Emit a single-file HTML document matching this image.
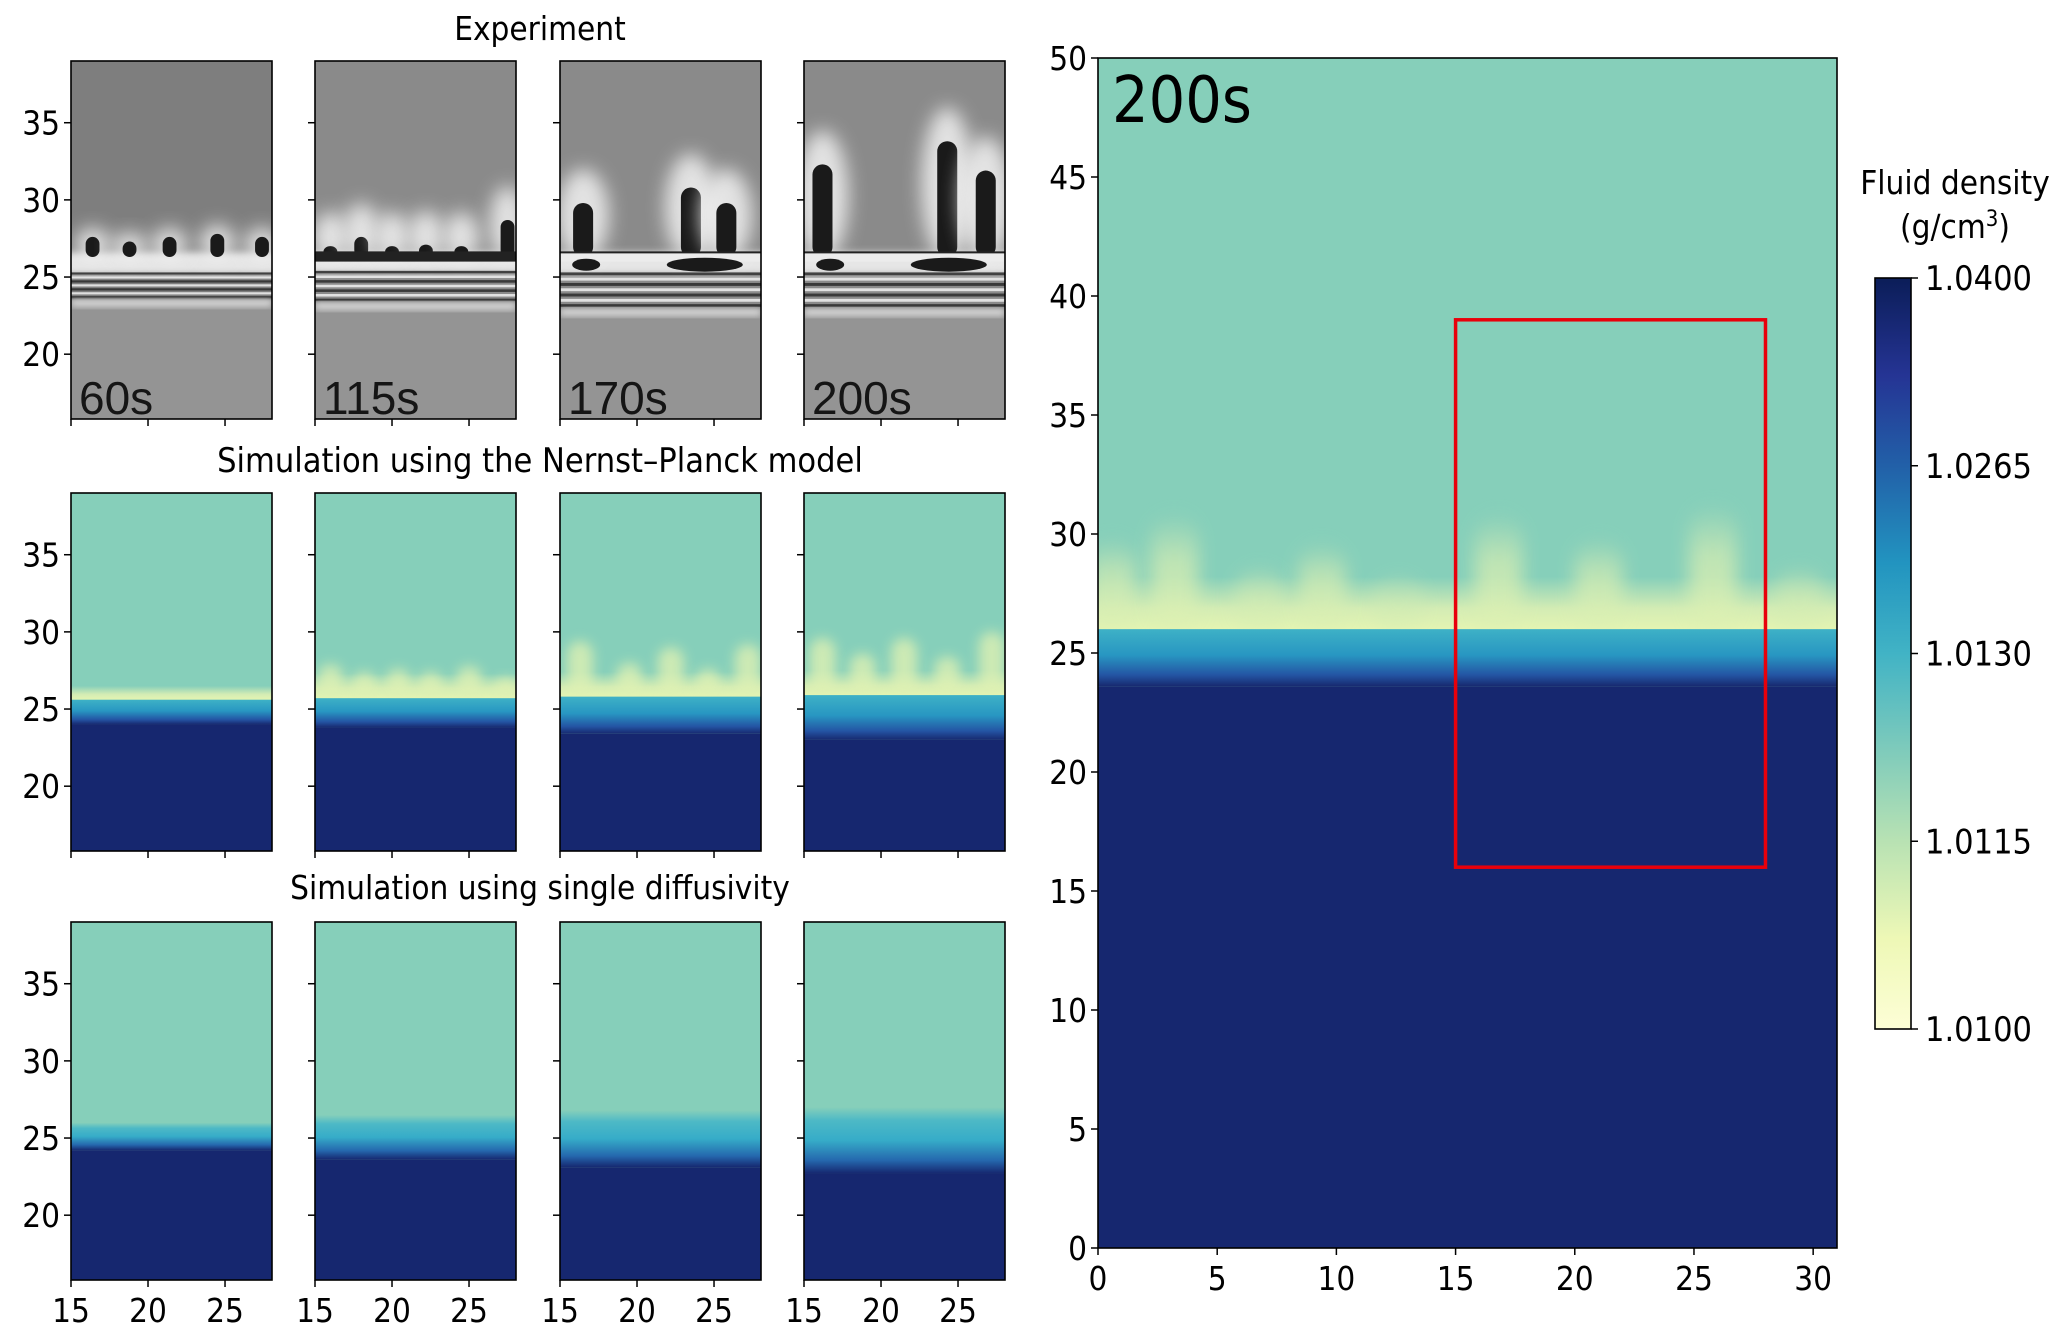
<!DOCTYPE html>
<html><head><meta charset="utf-8"><style>
html,body{margin:0;padding:0;background:#fff;}
svg{display:block;font-family:"DejaVu Sans Condensed","DejaVu Sans","Liberation Sans",sans-serif;}
</style></head><body>
<svg id="fig" width="2067" height="1334" viewBox="0 0 2067 1334" xmlns="http://www.w3.org/2000/svg">
<defs>
 <filter id="blur6" x="-50%" y="-50%" width="200%" height="200%"><feGaussianBlur stdDeviation="9"/></filter>
 <filter id="blur4" x="-50%" y="-50%" width="200%" height="200%"><feGaussianBlur stdDeviation="6"/></filter>
 <filter id="blur2" x="-50%" y="-50%" width="200%" height="200%"><feGaussianBlur stdDeviation="3.5"/></filter>
 <linearGradient id="cbGrad" x1="0" y1="1" x2="0" y2="0">
  <stop offset="0" stop-color="#fdfed6"/>
  <stop offset="0.12" stop-color="#eef8b6"/>
  <stop offset="0.25" stop-color="#b8e2b3"/>
  <stop offset="0.37" stop-color="#7fcbbb"/>
  <stop offset="0.5" stop-color="#41b3c5"/>
  <stop offset="0.62" stop-color="#2294c0"/>
  <stop offset="0.75" stop-color="#2260a8"/>
  <stop offset="0.87" stop-color="#253494"/>
  <stop offset="1" stop-color="#0b1d58"/>
 </linearGradient>
</defs>
</svg>
<script>
const NS='http://www.w3.org/2000/svg';
const svg=document.getElementById('fig');
// ---------- data ----------
const panelTimes=['60s','115s','170s','200s'];
const smallXTicks=[15,20,25];
const smallYTicks=[20,25,30,35];
const bigXTicks=[0,5,10,15,20,25,30];
const bigYTicks=[0,5,10,15,20,25,30,35,40,45,50];
const cbTickLabels=['1.0100','1.0115','1.0130','1.0265','1.0400'];
const rowTitles=['Experiment','Simulation using the Nernst\u2013Planck model','Simulation using single diffusivity'];
const bigPlumeX=[0.6,3.2,6.8,9.4,12.6,16.8,21.0,25.8,29.4];
const bigPlumeTop=[29.8,30.8,28.6,29.6,28.2,30.8,29.8,31.2,28.6];
const bigInterface=26;
const bigNavyTop=23.6;
const npInterface=[25.6,25.7,25.8,25.9];
const npNavyTop=[24.0,23.8,23.4,23.0];
const npPlumeX=[[],[16.0,18.2,20.4,22.5,25.0,27.4],[16.3,19.5,22.2,24.6,27.2],[16.2,18.8,21.5,24.3,27.2]];
const npPlumeTop=[[],[27.9,27.4,27.6,27.4,27.8,27.0],[29.4,28.0,29.0,27.6,29.2],[29.6,28.6,29.6,28.4,30.0]];
const sdBandTop=[26.0,26.5,26.8,27.0];
const sdNavyTop=[24.2,23.6,23.1,22.7];
const expFingerX=[[16.4,18.8,21.4,24.5,27.4],[16.0,18.0,20.0,22.2,24.5,27.5],[16.5,23.5,25.8],[16.2,24.3,26.8]];
const expFingerTop=[[27.6,27.3,27.6,27.8,27.6],[27.0,27.6,27.0,27.1,27.0,28.7],[29.8,30.8,29.8],[32.3,33.8,31.9]];
const expBandTop=[25.3,25.4,25.3,25.3];
const expBandBot=[23.5,23.3,22.9,22.9];

// ---------- helpers ----------
function el(tag,attrs,parent){const e=document.createElementNS(NS,tag);for(const k in attrs)e.setAttribute(k,attrs[k]);(parent||svg).appendChild(e);return e;}
function lin(d0,d1,r0,r1){return v=>r0+(v-d0)/(d1-d0)*(r1-r0);}
function txt(s,x,y,size,anchor,parent){const t=el('text',{x:x,y:y,'font-size':size,'text-anchor':anchor||'start',fill:'#000'},parent);t.textContent=s;return t;}
const FS=33;

const colL=[71,315,560,804], colW=201;
const rowT=[61,493,922], rowH=358;
const titleY=[40,472,899];
const XD=[15,28.05], YD=[15.8,39];

rowTitles.forEach((s,i)=>{const t=txt(s,540,titleY[i],i===1?34:FS,'middle');

});

let clipId=0;
function panel(r,c){
  const x0=colL[c], y0=rowT[r];
  const sx=lin(XD[0],XD[1],x0,x0+colW), sy=lin(YD[0],YD[1],y0+rowH,y0);
  const g=el('g',{});
  
  
  const cp=el('clipPath',{id:'cp'+(++clipId)},g);
  el('rect',{x:x0,y:y0,width:colW,height:rowH},cp);
  const inner=el('g',{'clip-path':'url(#cp'+clipId+')'},g);
  return {g,inner,sx,sy,x0,y0};
}
function smallAxes(p,r,c){
  el('rect',{x:p.x0,y:p.y0,width:colW,height:rowH,fill:'none',stroke:'#000','stroke-width':1.6},p.g);
  smallYTicks.forEach(v=>{const y=p.sy(v);
    el('line',{x1:p.x0-7,x2:p.x0,y1:y,y2:y,stroke:'#000','stroke-width':1.5},p.g);
    if(c===0){const t=txt(String(v),p.x0-11,y+12,FS,'end',p.g);}});
  smallXTicks.forEach(v=>{const x=p.sx(v);
    el('line',{x1:x,x2:x,y1:p.y0+rowH,y2:p.y0+rowH+7,stroke:'#000','stroke-width':1.5},p.g);
    if(r===2){const t=txt(String(v),x,p.y0+rowH+42,FS,'middle',p.g);}});
}
function vgrad(id,stops){const lg=el('linearGradient',{id:id,x1:0,y1:0,x2:0,y2:1},svg.querySelector('defs'));
  stops.forEach(s=>el('stop',{offset:s[0],'stop-color':s[1]},lg));}
vgrad('blueBand',[[0,'#3eb1c6'],[0.45,'#2897c2'],[0.8,'#2455a4'],[1,'#17296f']]);
vgrad('sdBand',[[0,'#86cfba'],[0.2,'#4db9c6'],[0.5,'#36acc8'],[0.8,'#2568ae'],[1,'#16276f']]);
vgrad('yBand',[[0,'#86cfba'],[0.6,'#d3ecb4'],[1,'#e4f4b2']]);
vgrad('plume',[[0,'#86cfba'],[0.4,'#c9e8b4'],[1,'#e0f2b2']]);

// ---------- experiment row ----------
for(let c=0;c<4;c++){
  const p=panel(0,c);const {inner,sx,sy}=p;
  el('rect',{x:p.x0,y:p.y0,width:colW,height:rowH,fill:c===0?'#7e7e7e':'#8a8a8a'},inner);
  el('rect',{x:p.x0,y:sy(expBandBot[c]),width:colW,height:sy(15.8)-sy(expBandBot[c]),fill:'#949494'},inner);
  el('rect',{x:p.x0-20,y:sy(26.6),width:colW+40,height:sy(expBandTop[c])-sy(26.6)+2,fill:'#f0f0f0',filter:'url(#blur2)',opacity:0.9},inner);
  expFingerX[c].forEach((fx,i)=>{
    const top=expFingerTop[c][i];
    const f=el('g',{},inner);
    
    
    const w=c<2?0.9:1.3;
    const glowTop=top+(c===0?0.6:2.2);
    el('ellipse',{cx:sx(fx),cy:(sy(glowTop)+sy(26))/2,rx:w*15.4*1.3,ry:(sy(26)-sy(glowTop))/2,fill:'#f2f2f2',filter:'url(#blur6)',opacity:0.85},f);
    el('rect',{x:sx(fx)-w*7.7,y:sy(top),width:w*15.4,height:sy(26.3)-sy(top),rx:w*7.7,fill:'#1a1a1a'},f);
  });
  if(c>=1){
    el('rect',{x:p.x0,y:sy(26.6),width:colW,height:sy(26.0)-sy(26.6),fill:c===1?'#222':'#ececec'},inner);
    el('line',{x1:p.x0,x2:p.x0+colW,y1:sy(26.6),y2:sy(26.6),stroke:'#222','stroke-width':2},inner);
    if(c>=2){el('ellipse',{cx:sx(16.7),cy:sy(25.8),rx:14,ry:6,fill:'#1a1a1a'},inner);
      el('ellipse',{cx:sx(24.4),cy:sy(25.8),rx:38,ry:7,fill:'#1a1a1a'},inner);}
  }
  const bt=sy(expBandTop[c]), bb=sy(expBandBot[c]);
  const n=7;for(let k=0;k<n;k++){
    el('rect',{x:p.x0,y:bt+(bb-bt)*k/n,width:colW,height:(bb-bt)/n*0.55,fill:k%2?'#f0f0f0':'#2a2a2a',opacity:0.85},inner);}
  el('rect',{x:p.x0,y:bb,width:colW,height:6,fill:'#e6e6e6',filter:'url(#blur2)'},inner);
  const t=el('text',{x:p.x0+8,y:p.y0+rowH-5,'font-size':46,fill:'#151515','font-family':'"Liberation Sans Narrow","Liberation Sans",sans-serif'},inner);
  t.textContent=panelTimes[c];
  
  
  smallAxes(p,0,c);
}
// ---------- Nernst-Planck row ----------
for(let c=0;c<4;c++){
  const p=panel(1,c);const {inner,sx,sy}=p;
  el('rect',{x:p.x0,y:p.y0,width:colW,height:rowH,fill:'#86cfba'},inner);
  const yt=npInterface[c]+(c===0?0.9:1.6);
  el('rect',{x:p.x0,y:sy(yt),width:colW,height:sy(npInterface[c])-sy(yt),fill:'url(#yBand)'},inner);
  npPlumeX[c].forEach((fx,i)=>{
    const top=npPlumeTop[c][i];
    const e=el('rect',{x:sx(fx)-13,y:sy(top),width:26,height:sy(npInterface[c])-sy(top),rx:13,fill:'#dff1b3',opacity:0.8,filter:'url(#blur4)'},inner);
    
    
  });
  el('rect',{x:p.x0,y:sy(npInterface[c]),width:colW,height:sy(npNavyTop[c])-sy(npInterface[c]),fill:'url(#blueBand)'},inner);
  el('rect',{x:p.x0,y:sy(npNavyTop[c]),width:colW,height:sy(15.8)-sy(npNavyTop[c])+2,fill:'#16276f'},inner);
  smallAxes(p,1,c);
}
// ---------- single diffusivity row ----------
for(let c=0;c<4;c++){
  const p=panel(2,c);const {inner,sx,sy}=p;
  el('rect',{x:p.x0,y:p.y0,width:colW,height:rowH,fill:'#86cfba'},inner);
  const b=el('rect',{x:p.x0,y:sy(sdBandTop[c]),width:colW,height:sy(sdNavyTop[c])-sy(sdBandTop[c]),fill:'url(#sdBand)'},inner);
  
  
  el('rect',{x:p.x0,y:sy(sdNavyTop[c]),width:colW,height:sy(15.8)-sy(sdNavyTop[c])+2,fill:'#16276f'},inner);
  smallAxes(p,2,c);
}
// ---------- big panel ----------
(function(){
  const L=1098,R=1837,T=58,B=1248;
  const sx=lin(0,31,L,R), sy=lin(0,50,B,T);
  const g=el('g',{});
  
  
  const cp=el('clipPath',{id:'bigclip'},g);el('rect',{x:L,y:T,width:R-L,height:B-T},cp);
  const inner=el('g',{'clip-path':'url(#bigclip)'},g);
  el('rect',{x:L,y:T,width:R-L,height:B-T,fill:'#86cfba'},inner);
  el('rect',{x:L,y:sy(bigInterface+2.2),width:R-L,height:sy(bigInterface)-sy(bigInterface+2.2),fill:'url(#yBand)'},inner);
  bigPlumeX.forEach((fx,i)=>{
    const top=bigPlumeTop[i];
    const e=el('rect',{x:sx(fx)-24,y:sy(top),width:48,height:sy(bigInterface)-sy(top),rx:24,fill:'url(#plume)',opacity:0.85,filter:'url(#blur6)'},inner);
    
    
  });
  el('rect',{x:L,y:sy(bigInterface),width:R-L,height:sy(bigNavyTop)-sy(bigInterface),fill:'url(#blueBand)'},inner);
  el('rect',{x:L,y:sy(bigNavyTop),width:R-L,height:B-sy(bigNavyTop)+2,fill:'#16276f'},inner);
  el('rect',{x:L,y:T,width:R-L,height:B-T,fill:'none',stroke:'#000','stroke-width':1.6},g);
  const rr=el('rect',{x:sx(15),y:sy(39),width:sx(28)-sx(15),height:sy(16)-sy(39),fill:'none',stroke:'#e8000b','stroke-width':3.5},g);
  
  
  const t=txt('200s',L+14,122,64,'start',g);
  
  
  bigYTicks.forEach(v=>{const y=sy(v);
    el('line',{x1:L-7,x2:L,y1:y,y2:y,stroke:'#000','stroke-width':1.5},g);
    const l=txt(String(v),L-11,y+12,FS,'end',g);
    
    });
  bigXTicks.forEach(v=>{const x=sx(v);
    el('line',{x1:x,x2:x,y1:B,y2:B+7,stroke:'#000','stroke-width':1.5},g);
    const l=txt(String(v),x,B+42,FS,'middle',g);
    
    });
})();
// ---------- colorbar ----------
(function(){
  const L=1875,R=1911,T=278,B=1029;
  const g=el('g',{});
  
  
  el('rect',{x:L,y:T,width:R-L,height:B-T,fill:'url(#cbGrad)',stroke:'#000','stroke-width':1.6},g);
  const sy=lin(0,cbTickLabels.length-1,B,T);
  cbTickLabels.forEach((s,i)=>{const y=sy(i);
    el('line',{x1:R,x2:R+7,y1:y,y2:y,stroke:'#000','stroke-width':1.5},g);
    const l=txt(s,R+14,y+12,34,'start',g);
    
    });
  const t1=txt('Fluid density',1955,194,FS,'middle',g);
  
  
  const t2=el('text',{x:1955,y:238,'font-size':FS,'text-anchor':'middle'},g);
  
  
  t2.innerHTML='(g/cm<tspan dy="-12" font-size="22">3</tspan><tspan dy="12">)</tspan>';
})();
</script>
</body></html>
